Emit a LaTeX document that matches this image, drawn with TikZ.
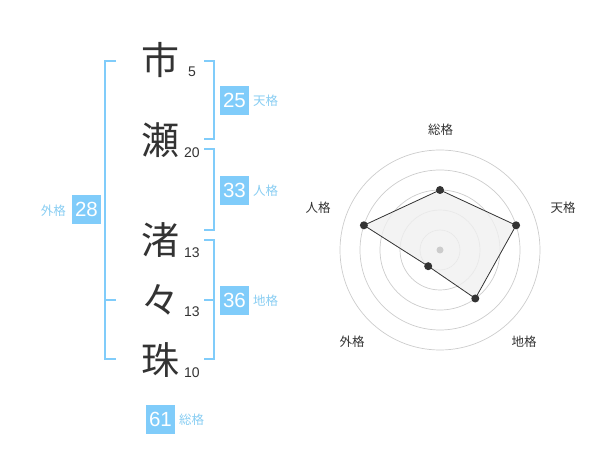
\documentclass[tikz,border=0pt]{standalone}
\usepackage{fontspec}
\setmainfont{Liberation Sans}
\newfontfamily\jp{Noto Sans CJK JP}
\definecolor{bblue}{HTML}{80CCFA}
\definecolor{lblue}{HTML}{88CDF2}
\definecolor{dark}{HTML}{333333}
\definecolor{ring}{HTML}{CCCCCC}
\definecolor{area}{HTML}{F0F0F0}
\tikzset{
  kanji/.style={font=\jp\fontsize{38}{38}\selectfont, text=dark, inner sep=0pt},
  strokes/.style={font=\fontsize{14}{14}\selectfont, text=dark, inner sep=0pt},
  numbox/.style={fill=bblue, text=white, minimum width=29pt, minimum height=29pt, inner sep=0pt, font=\fontsize{20.5}{20.5}\selectfont},
  kaku/.style={font=\jp\fontsize{12.5}{12.5}\selectfont, text=lblue, inner sep=0pt},
  brk/.style={draw=bblue, line width=1.8pt},
  ringst/.style={draw=ring, line width=0.7pt},
  axlabel/.style={font=\jp\fontsize{12.5}{12.5}\selectfont, text=dark, inner sep=0pt},
  dot/.style={circle, fill=dark, minimum size=8pt, inner sep=0pt},
}
\begin{document}
\begin{tikzpicture}[x=1pt,y=-1pt]
\useasboundingbox (0,0) rectangle (600,470);
% characters
\node[kanji] (c1) at (160,60) {市};
\node[kanji] (c2) at (160,140) {瀬};
\node[kanji] (c3) at (160,240) {渚};
\node[kanji] (c4) at (160,300) {々};
\node[kanji] (c5) at (160,360) {珠};
\node[strokes] (s1) at (192,72) {5};
\node[strokes] (s2) at (192,153) {20};
\node[strokes] (s3) at (192,253) {13};
\node[strokes] (s4) at (192,312) {13};
\node[strokes] (s5) at (192,373) {10};
% brackets
\draw[brk] (116,60.7) -- (105,60.7) -- (105,359.3) -- (116,359.3);
\draw[brk] (105,300) -- (116,300);
\draw[brk] (204,60.7) -- (214,60.7) -- (214,139.3) -- (204,139.3);
\draw[brk] (204,149.3) -- (214,149.3) -- (214,230) -- (204,230);
\draw[brk] (204,240) -- (214,240) -- (214,359.3) -- (204,359.3);
\draw[brk] (204,300) -- (214,300);
% boxes
\node[numbox] (b25) at (234.5,100.5) {25};
\node[kaku, anchor=west] (l25) at (253,101) {天格};
\node[numbox] (b33) at (234.5,190.5) {33};
\node[kaku, anchor=west] (l33) at (253,191) {人格};
\node[numbox] (b36) at (234.5,300.5) {36};
\node[kaku, anchor=west] (l36) at (253,301) {地格};
\node[numbox] (b28) at (86.5,209.5) {28};
\node[kaku, anchor=east] (l28) at (66,211) {外格};
\node[numbox] (b61) at (160.5,419) {61};
\node[kaku, anchor=west] (l61) at (179,420) {総格};
% radar
\foreach \r in {20,40,60,80,100} \draw[ringst] (440,250) circle[radius=\r];
\coordinate (p1) at (440,190);
\coordinate (p2) at (516.1,225.3);
\coordinate (p3) at (475.3,298.5);
\coordinate (p4) at (428.2,266.2);
\coordinate (p5) at (363.9,225.3);
\filldraw[fill=area, fill opacity=0.8, draw=dark, line width=0.8pt] (p1) -- (p2) -- (p3) -- (p4) -- (p5) -- cycle;
\node[circle, fill=ring, minimum size=7pt, inner sep=0pt] (ctr) at (440,250) {};
\foreach \p in {p1,p2,p3,p4,p5} \node[dot] at (\p) {};
\node[axlabel] (a1) at (440.5,130) {総格};
\node[axlabel] (a2) at (563,208) {天格};
\node[axlabel] (a3) at (318,208) {人格};
\node[axlabel] (a4) at (352,342) {外格};
\node[axlabel] (a5) at (524,342) {地格};
\end{tikzpicture}
\end{document}
